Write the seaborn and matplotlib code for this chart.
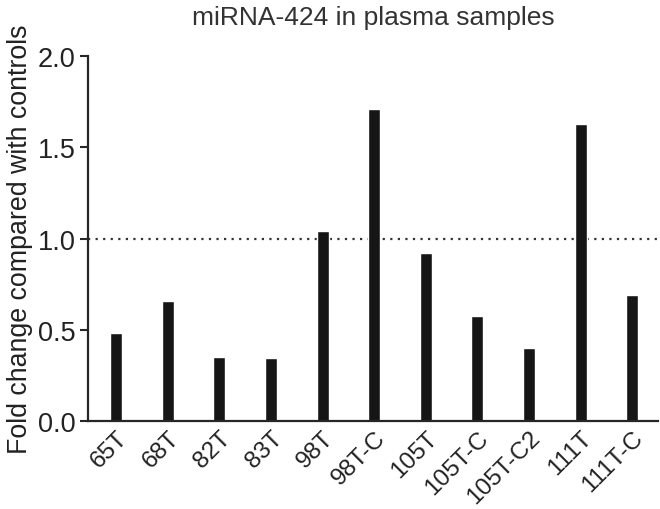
import pandas as pd
import matplotlib
matplotlib.use('Agg')
import matplotlib.pyplot as plt
import seaborn as sns

# values
samples = ['65T', '68T', '82T', '83T', '98T', '98T-C', '105T', '105T-C',
           '105T-C2', '111T', '111T-C']
fold_change = [0.48, 0.66, 0.35, 0.345, 1.04, 1.71, 0.92, 0.575, 0.40, 1.63, 0.69]
y_ticks = [0.0, 0.5, 1.0, 1.5, 2.0]

df = pd.DataFrame({'sample': samples, 'fold': fold_change})

sns.set_style('ticks')
plt.rcParams['font.family'] = ['Liberation Sans', 'DejaVu Sans']

fig = plt.figure(figsize=(6.6, 5.1), dpi=100)
ax = fig.add_axes([0.133, 0.1725, 0.864, 0.7155])

sns.barplot(data=df, x='sample', y='fold', color='#161616', width=0.23,
            saturation=1, ax=ax)

ax.axhline(1.0, color='#333333', ls=(0, (1.0, 2.4)), lw=1.6, zorder=0)

ax.set_ylim(0, 2.0)
ax.set_xlim(-0.55, 10.5)
ax.set_yticks(y_ticks)
ax.set_yticklabels([f'{t:.1f}' for t in y_ticks])
ax.tick_params(axis='y', labelsize=19.5, length=6, width=1.5, pad=3,
               labelcolor='#222222')
ax.tick_params(axis='x', labelsize=17.5, length=0, pad=4, labelcolor='#222222')
for lab in ax.get_xticklabels():
    lab.set_rotation(45)
    lab.set_ha('right')
    lab.set_va('top')
    lab.set_rotation_mode('anchor')

for side in ['top', 'right']:
    ax.spines[side].set_visible(False)
for side in ['left', 'bottom']:
    ax.spines[side].set_linewidth(1.6)

ax.set_xlabel('')
ax.set_ylabel('Fold change compared with controls', fontsize=19.3, labelpad=3,
              color='#222222')
ax.set_title('miRNA-424 in plasma samples', fontsize=19, pad=23, color='#333333')

fig.savefig('out.png', dpi=100)
